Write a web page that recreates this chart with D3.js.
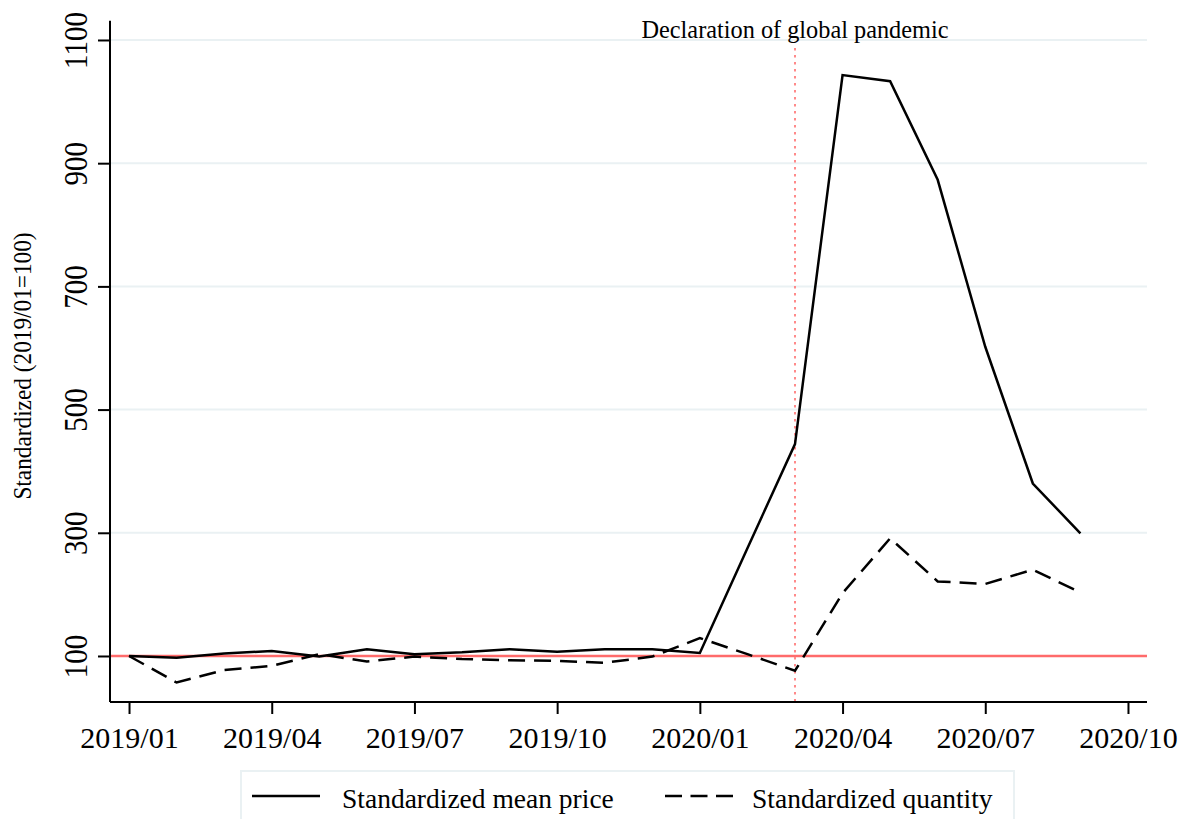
<html>
  <head>
    <meta charset="utf-8">
    <title>Standardized price and quantity</title>
    <style>
      body { margin: 0; background: #fff; }
      text { font-family: "Liberation Serif", "Times New Roman", serif; fill: #000; }
    </style>
    <script src="https://d3js.org/d3.v7.min.js"></script>
  </head>
<body>
  <svg width="1189" height="819"></svg>
  <script>
    // data, one value per month 2019/01 .. 2020/09
    var months = ["2019/01","2019/02","2019/03","2019/04","2019/05","2019/06","2019/07",
                  "2019/08","2019/09","2019/10","2019/11","2019/12","2020/01","2020/02",
                  "2020/03","2020/04","2020/05","2020/06","2020/07","2020/08","2020/09"];
    var price    = [100, 97, 104, 108, 99, 111, 103, 106, 111, 107, 111, 111, 105, 275,
                    444, 1043, 1033, 873, 602, 380, 299];
    var quantity = [100, 57, 77, 84, 103, 91, 99, 95, 93, 92, 89, 99, 129, 103,
                    76, 202, 291, 221, 217, 240, 203];
    var xTickLabels = ["2019/01","2019/04","2019/07","2019/10","2020/01","2020/04","2020/07","2020/10"];
    var yTicks = [100, 300, 500, 700, 900, 1100];
    var pandemicMonth = "2020/03";
    var seriesNames = ["Standardized mean price", "Standardized quantity"];

    var svg = d3.select("svg");
    var plot = {left: 110, right: 1147, top: 20.7, bottom: 702};

    // monthly index scale (Stata %tm style, equal month spacing)
    var x = d3.scaleLinear().domain([-0.4, 21.4]).range([plot.left, plot.right]);
    var y = d3.scaleLinear().domain([25.3, 1131.3]).range([plot.bottom, plot.top]);

    // grid
    svg.append("g")
      .selectAll("line")
      .data(yTicks.slice(1))
      .enter().append("line")
      .attr("x1", plot.left).attr("x2", plot.right)
      .attr("y1", d => y(d)).attr("y2", d => y(d))
      .attr("stroke", "#eaf1f3").attr("stroke-width", 2);

    // reference line at 100
    svg.append("line")
      .attr("x1", plot.left).attr("x2", plot.right)
      .attr("y1", y(100)).attr("y2", y(100))
      .attr("stroke", "#ff6b6b").attr("stroke-width", 2.5);

    // pandemic line
    var px = x(months.indexOf(pandemicMonth));
    svg.append("line")
      .attr("x1", px).attr("x2", px)
      .attr("y1", 48).attr("y2", plot.bottom)
      .attr("stroke", "#ff8a8a").attr("stroke-width", 2)
      .attr("stroke-dasharray", "2.5,4.5");
    svg.append("text")
      .attr("x", px).attr("y", 38)
      .attr("text-anchor", "middle")
      .attr("font-size", 24.3)
      .text("Declaration of global pandemic");

    // lines
    var line = d3.line().x((d, i) => x(i)).y(d => y(d));
    svg.append("path").datum(price)
      .attr("d", line)
      .attr("fill", "none").attr("stroke", "#000").attr("stroke-width", 2.5)
      .attr("stroke-linejoin", "miter");
    svg.append("path").datum(quantity)
      .attr("d", line)
      .attr("fill", "none").attr("stroke", "#000").attr("stroke-width", 2.5)
      .attr("stroke-dasharray", "17,9");

    // x axis
    var xAxis = d3.axisBottom(x)
      .tickValues(xTickLabels.map((d, i) => i * 3))
      .tickFormat((d, i) => xTickLabels[i])
      .tickSize(12).tickSizeOuter(0).tickPadding(6);
    var gx = svg.append("g").attr("transform", "translate(0," + plot.bottom + ")").call(xAxis);
    gx.select(".domain").attr("stroke", "#000").attr("stroke-width", 2)
      .attr("d", "M" + plot.left + ",0H" + plot.right);
    gx.selectAll(".tick line").attr("stroke", "#000").attr("stroke-width", 2);
    gx.selectAll(".tick text")
      .attr("font-size", 30)
      .attr("y", 0).attr("dy", 0)
      .attr("transform", "translate(0,46)");

    // y axis
    var yAxis = d3.axisLeft(y).tickValues(yTicks).tickFormat(d3.format("d"))
      .tickSize(12).tickSizeOuter(0);
    var gy = svg.append("g").attr("transform", "translate(" + plot.left + ",0)").call(yAxis);
    gy.select(".domain").attr("stroke", "#000").attr("stroke-width", 2)
      .attr("d", "M0," + plot.top + "V" + plot.bottom);
    gy.selectAll(".tick line").attr("stroke", "#000").attr("stroke-width", 2);
    gy.selectAll(".tick text")
      .attr("font-size", 29)
      .attr("x", null).attr("dy", null)
      .attr("text-anchor", "middle")
      .attr("transform", "translate(-23,0) rotate(-90) scale(1,1.15)");

    // y label
    svg.append("text")
      .attr("transform", "translate(31," + 366 + ") rotate(-90) scale(1,1.12)")
      .attr("text-anchor", "middle")
      .attr("font-size", 23.3)
      .text("Standardized (2019/01=100)");

    // legend
    var lg = svg.append("g");
    lg.append("rect")
      .attr("x", 241).attr("y", 771).attr("width", 773).attr("height", 80)
      .attr("fill", "#fff").attr("stroke", "#eaf1f3").attr("stroke-width", 2);
    var items = lg.selectAll("g.item")
      .data(seriesNames)
      .enter().append("g")
      .attr("transform", (d, i) => "translate(" + [252, 665][i] + ",0)");
    items.append("line")
      .attr("x1", 0).attr("x2", 68).attr("y1", 796).attr("y2", 796)
      .attr("stroke", "#000").attr("stroke-width", 2.5)
      .attr("stroke-dasharray", (d, i) => i ? "17,8.5" : null);
    items.append("text")
      .attr("x", (d, i) => [90, 87][i]).attr("y", 808)
      .attr("font-size", 27.5)
      .text(d => d);
  </script>
</body>
</html>
